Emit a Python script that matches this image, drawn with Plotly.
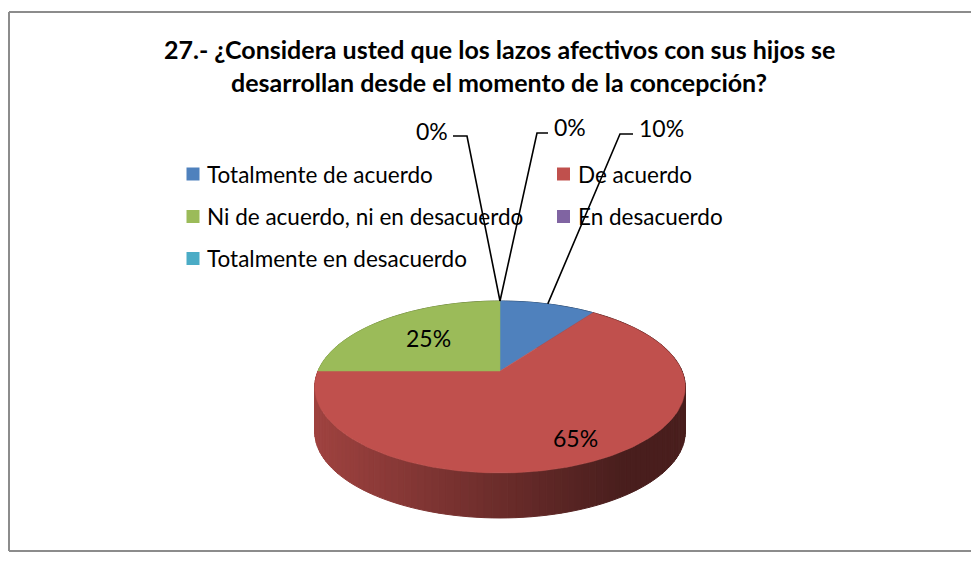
import math
import plotly.graph_objects as go

# ---------------- data ----------------
categories = [
    "Totalmente de acuerdo",
    "De acuerdo",
    "Ni de acuerdo, ni en desacuerdo",
    "En desacuerdo",
    "Totalmente en desacuerdo",
]
values = [10, 65, 25, 0, 0]          # percentages
colors = ["#4F81BD", "#C0504D", "#9BBB59", "#8064A2", "#4BACC6"]
title_lines = [
    "27.- ¿Considera usted que los lazos afectivos con sus hijos se",
    "desarrollan desde el momento de la concepción?",
]

# ---------------- style / layout ----------------
VW, VH = 979, 573          # browser viewport
OFF = 8                    # page body margin compensation
W, H = VW - 2 * OFF, 546
FONT = "Lato"
CX, CY = 500.0, 371.0      # projected pie centre (pixels)
A, B, E = 182.0, 83.0, 0.186  # horizontal radius, vertical radius, perspective
DEPTH = 45.0
# inside labels: radius fraction; outside labels: (text x, text y, anchor, elbow x, elbow y, end x)
inside_r = {1: 0.79, 2: 0.60}
outside = {
    0: (637, 128, "left", 620, 134, 633),
    3: (450, 131, "right", 467, 136, 453),
    4: (552, 127, "left", 537, 133, 548),
}
legend_pos = [(193, 174), (563.5, 174), (193, 216.5), (563.5, 216.5), (193, 258.5)]


def proj(phi_deg, r=1.0):
    p = math.radians(phi_deg)
    X, Z = r * math.sin(p), r * math.cos(p)
    d = 1 + E * Z
    return CX + A * X / d, CY - B * Z / d


def hex2rgb(h):
    h = h.lstrip("#")
    return tuple(int(h[i:i + 2], 16) for i in (0, 2, 4))


total = sum(values)
starts, ends = [], []
acc = 0.0
for v in values:
    starts.append(acc / total * 360)
    acc += v
    ends.append(acc / total * 360)

fig = go.Figure()

# ---- side wall (strips) ----
strips = []
step = 2.0
phi = 0.0
while phi < 360:
    a0, a1 = phi, phi + step
    mid = (a0 + a1) / 2
    idx = 0
    for i, v in enumerate(values):
        if v > 0 and starts[i] <= mid < ends[i]:
            idx = i
    strips.append((math.cos(math.radians(mid)), a0, a1, idx))
    phi += step
strips.sort(key=lambda s: -s[0])
for _, a0, a1, idx in strips:
    x0, y0 = proj(a0)
    x1, y1 = proj(a1)
    xm = (x0 + x1) / 2
    t = min(max((xm - 316) / (620 - 316), 0), 1)
    f = 0.83 - (0.83 - 0.385) * t
    r, g, b = hex2rgb(colors[idx])
    col = f"rgb({int(r * f)},{int(g * f)},{int(b * f)})"
    fig.add_trace(go.Scatter(
        x=[x0, x1, x1, x0, x0], y=[y0, y1, y1 + DEPTH, y0 + DEPTH, y0],
        mode="lines", fill="toself", fillcolor=col,
        line=dict(color=col, width=1), hoverinfo="skip", showlegend=False))

# ---- top face slices ----
for i, v in enumerate(values):
    if v <= 0:
        continue
    xs, ys = [CX], [CY]
    n = max(int((ends[i] - starts[i]) / 1.0), 2)
    for k in range(n + 1):
        px, py = proj(starts[i] + (ends[i] - starts[i]) * k / n)
        xs.append(px)
        ys.append(py)
    xs.append(CX)
    ys.append(CY)
    fig.add_trace(go.Scatter(
        x=xs, y=ys, mode="lines", fill="toself", fillcolor=colors[i],
        line=dict(color=colors[i], width=0.5), hoverinfo="skip", showlegend=False,
        name=categories[i]))

annotations = []
# ---- labels ----
for i, v in enumerate(values):
    mid = (starts[i] + ends[i]) / 2
    txt = f"{v}%"
    if i in inside_r:
        lx, ly = proj(mid, inside_r[i])
        annotations.append(dict(x=lx, y=ly, text=txt, showarrow=False,
                                font=dict(family=FONT, size=23, color="black"),
                                xanchor="center", yanchor="middle"))
    elif i in outside:
        tx, ty, anc, ex, ey, endx = outside[i]
        ax_, ay_ = proj(mid)
        fig.add_trace(go.Scatter(x=[ax_, ex, endx], y=[ay_, ey, ey], mode="lines",
                                 line=dict(color="black", width=1.6),
                                 hoverinfo="skip", showlegend=False))
        annotations.append(dict(x=tx, y=ty, text=txt, showarrow=False,
                                font=dict(family=FONT, size=23, color="black"),
                                xanchor=anc, yanchor="middle"))

# ---- legend (manual) ----
fig.add_trace(go.Scatter(
    x=[p[0] for p in legend_pos], y=[p[1] for p in legend_pos], mode="markers",
    marker=dict(symbol="square", size=13, color=colors), hoverinfo="skip",
    showlegend=False))
for (lx, ly), name in zip(legend_pos, categories):
    annotations.append(dict(x=lx + 12, y=ly, text=name, showarrow=False,
                            font=dict(family=FONT, size=22.5, color="black"),
                            xanchor="left", yanchor="middle"))

# ---- title ----
for ty, line in zip([49, 82], title_lines):
    annotations.append(dict(x=499, y=ty, text=f"<b>{line}</b>", showarrow=False,
                            font=dict(family=FONT, size=25, color="black"),
                            xanchor="center", yanchor="middle"))

border = dict(color="#8C8C8C", width=2)
fig.update_layout(
    width=W, height=H, autosize=False,
    margin=dict(l=0, r=0, t=0, b=0),
    paper_bgcolor="white", plot_bgcolor="white",
    xaxis=dict(range=[OFF, OFF + W], visible=False, fixedrange=True),
    yaxis=dict(range=[OFF + H, OFF], visible=False, fixedrange=True),
    annotations=annotations,
    shapes=[
        dict(type="line", xref="x", yref="y", x0=9, y0=12, x1=OFF + W, y1=12, line=border, layer="below"),
        dict(type="line", xref="x", yref="y", x0=9, y0=12, x1=9, y1=551, line=border, layer="below"),
        dict(type="line", xref="x", yref="y", x0=9, y0=551, x1=OFF + W, y1=551, line=border, layer="below"),
    ],
)

fig.write_html("out.html")
